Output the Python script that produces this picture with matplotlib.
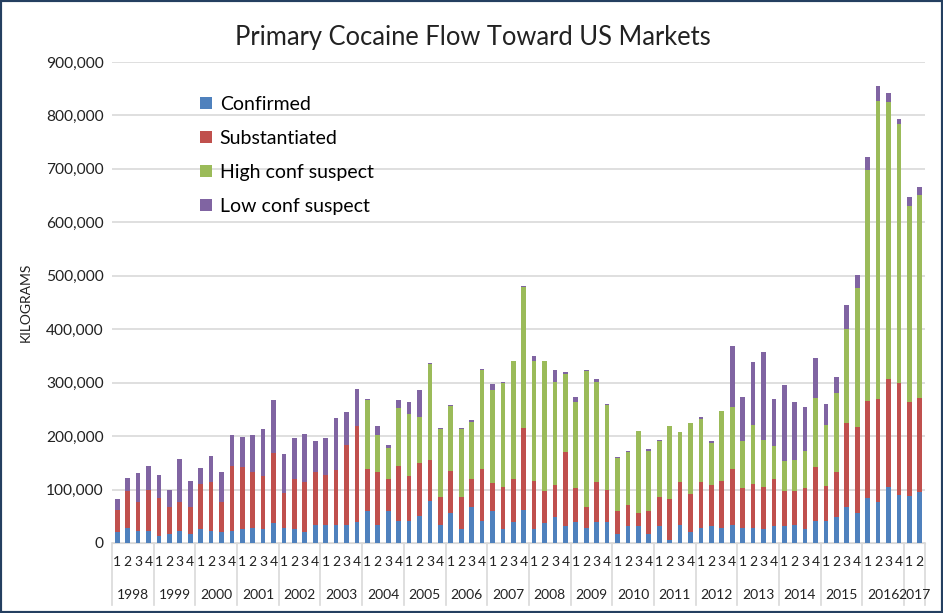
import numpy as np
import matplotlib
matplotlib.use("Agg")
import matplotlib.pyplot as plt
from matplotlib.patches import Rectangle
from matplotlib.lines import Line2D
import matplotlib.transforms as mtransforms
from matplotlib.ticker import FuncFormatter

plt.rcParams['font.family'] = ['Lato', 'DejaVu Sans']

years = [str(y) for y in range(1998, 2018)]
quarters_per_year = [4] * 19 + [2]
quarter_labels = [str(q) for n in quarters_per_year for q in range(1, n + 1)]

# kilograms per quarter, 1998 Q1 .. 2017 Q2
confirmed = [20000, 28000, 22000, 22000, 14000, 17500, 22000, 17500, 25600, 22000, 20000, 22000,
             25600, 28000, 25600, 37000, 28000, 25600, 20000, 33700, 33700, 33700, 33700, 39000,
             59000, 33700, 59000, 42000, 42000, 51000, 79000, 33700, 57000, 25600, 68000, 42000,
             59000, 25600, 40000, 62000, 25600, 37000, 48000, 31000, 40000, 28000, 40000, 40000,
             17500, 31000, 31000, 17500, 31000, 5600, 33700, 20000, 28000, 31000, 28000, 33700,
             28000, 28000, 25600, 31000, 31000, 33700, 25600, 42000, 41800, 48000, 67300, 56000,
             84800, 76000, 104000, 90400, 87300, 96000]
substantiated = [42000, 69000, 55000, 78000, 71000, 50500, 55000, 50500, 85000, 91500, 57000, 123000,
                 116000, 105500, 99000, 131000, 65600, 93600, 93500, 100000, 93600, 102000, 150000, 179000,
                 80000, 100000, 60000, 103000, 83000, 99000, 77000, 52000, 77000, 60000, 51000, 97000,
                 54000, 80000, 79000, 154000, 91000, 60000, 60000, 139000, 62000, 40000, 73500, 60000,
                 41500, 40000, 26000, 41500, 54500, 76700, 80000, 71000, 85500, 77000, 88600, 105600,
                 74000, 82000, 79600, 88000, 65700, 63000, 76400, 99600, 65400, 84800, 156500, 161500,
                 181400, 192600, 202000, 209400, 176400, 175800]
high_conf = [0] * 24 + [128000, 68000, 59000, 108000, 116000, 85000, 179000, 127000, 122000, 127000,
                        108000, 184000, 173500, 193000, 221000, 263000, 224000, 244000, 193000, 147000,
                        162000, 253000, 187000, 158000, 100000, 99000, 153000, 114000, 104500, 136000,
                        93600, 133000, 119000, 79000, 129800, 116000, 88000, 111500, 88000, 62500,
                        57000, 59000, 71000, 129000, 113000, 147000, 175700, 260500, 431500, 558600,
                        518600, 485000, 367700, 379500]
low_conf = [20000, 25000, 54000, 45000, 43000, 32000, 80000, 48000, 29000, 48500, 56500, 56500,
            56700, 68000, 88000, 99000, 73600, 77000, 90500, 57000, 69000, 99000, 62000, 71000,
            2500, 17000, 6000, 14000, 22500, 52000, 2500, 2500, 3000, 2500, 2500, 3000,
            11000, 2500, 0, 1000, 8700, 0, 22500, 3000, 8700, 2500, 5600, 3000,
            2500, 3000, 0, 2500, 2500, 0, 0, 1000, 3000, 3000, 1000, 113600,
            82600, 116500, 164000, 88000, 141500, 108000, 82000, 75000, 40500, 31000, 45000, 23000,
            25000, 28600, 17000, 8700, 15600, 14400]

series = [("Confirmed", confirmed, "#4F81BD"),
          ("Substantiated", substantiated, "#C0504D"),
          ("High conf suspect", high_conf, "#9BBB59"),
          ("Low conf suspect", low_conf, "#8064A2")]

W, H = 943, 613
fig = plt.figure(figsize=(W / 100, H / 100), dpi=100)
ax = fig.add_axes([112 / W, 1 - 543 / H, 813 / W, 481 / H])

x = np.arange(len(quarter_labels))
bottom = np.zeros(len(x))
for name, vals, col in series:
    v = np.array(vals, dtype=float)
    ax.bar(x, v, width=0.45, bottom=bottom, color=col, label=name, zorder=3)
    bottom += v

ax.set_xlim(-0.5, len(x) - 0.5)
ax.set_ylim(0, 900000)
ax.set_yticks(np.arange(0, 900001, 100000))
ax.yaxis.set_major_formatter(FuncFormatter(lambda v, p: f"{int(v):,}"))
ax.tick_params(axis='y', length=0, labelsize=11.2, pad=6, labelcolor='#222222')
ax.grid(axis='y', color='#D9D9D9', linewidth=1.2, zorder=0)
for s in ['top', 'right', 'left']:
    ax.spines[s].set_visible(False)
ax.spines['bottom'].set_color('#D9D9D9')

ax.set_xticks(x)
ax.set_xticklabels(quarter_labels, fontsize=10, color='#222222')
ax.tick_params(axis='x', length=0, pad=9)

# year labels and group separators
trans = mtransforms.blended_transform_factory(ax.transData, ax.transAxes)
sep_bottom = -(605 - 543) / 481
start = 0
for yr, n in zip(years, quarters_per_year):
    ax.add_line(Line2D([start - 0.5, start - 0.5], [0, sep_bottom], transform=trans,
                       color='#D9D9D9', lw=1.2, clip_on=False))
    ax.text(start + (n - 1) / 2, -(595 - 543) / 481, yr, transform=trans,
            ha='center', va='center', fontsize=10, color='#222222')
    start += n
ax.add_line(Line2D([start - 0.5, start - 0.5], [0, sep_bottom], transform=trans,
                   color='#D9D9D9', lw=1.2, clip_on=False))

ax.set_ylabel("KILOGRAMS", fontsize=10, color='#222222', labelpad=10)

fig.text(473 / W, 1 - 37 / H, "Primary Cocaine Flow Toward US Markets",
         ha='center', va='center', fontsize=18.4, color='#222222')

ax.legend(loc='upper left', bbox_to_anchor=(200 / W, 1 - 96 / H),
          bbox_transform=fig.transFigure, frameon=False, fontsize=14,
          handlelength=0.62, handleheight=0.62, handletextpad=0.4,
          labelspacing=0.87, borderpad=0, borderaxespad=0)

fig.patches.append(Rectangle((0, 0), 1, 1, transform=fig.transFigure, fill=False,
                             edgecolor='#243F60', linewidth=3, zorder=10))

fig.savefig("out.png", dpi=100)
